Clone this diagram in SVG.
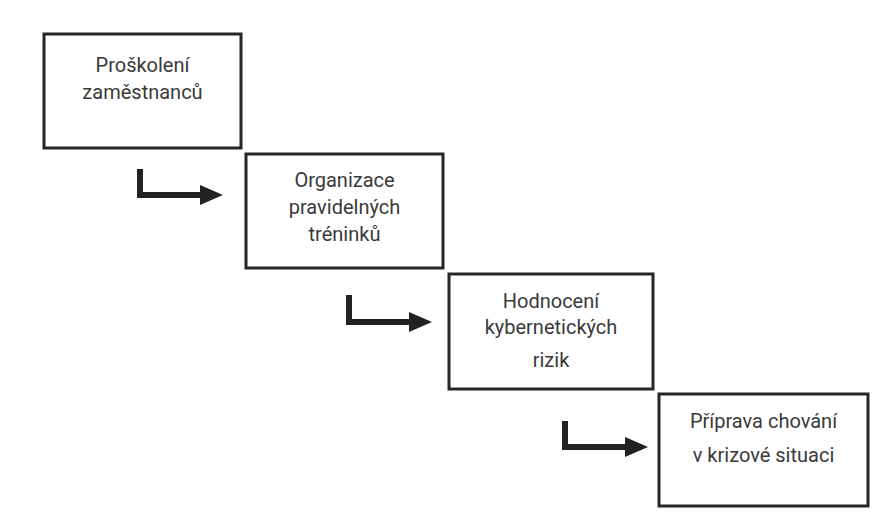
<svg xmlns="http://www.w3.org/2000/svg" width="881" height="525" viewBox="0 0 881 525">
  <defs>
    <style>
      .box { fill: #ffffff; stroke: #262626; stroke-width: 3; }
      .lbl { font-family: Roboto, "Noto Sans", "DejaVu Sans", sans-serif; font-size: 20px; fill: #3a3a3a; text-anchor: middle; }
      .conn { fill: none; stroke: #222222; stroke-width: 6; stroke-linejoin: miter; stroke-linecap: butt; }
    </style>
    <marker id="head" viewBox="0 0 23 20" markerWidth="23" markerHeight="20" markerUnits="userSpaceOnUse" refX="1" refY="10" orient="auto">
      <path d="M0,0 L23,10 L0,20 Z" fill="#222222"/>
    </marker>
  </defs>
  <rect width="881" height="525" fill="#ffffff"/>

  <g id="connectors">
    <path class="conn" d="M140,169 V195 H201" marker-end="url(#head)"/>
    <path class="conn" d="M349,295 V322 H410" marker-end="url(#head)"/>
    <path class="conn" d="M565,421 V447 H626" marker-end="url(#head)"/>
  </g>

  <g id="node1">
    <rect class="box" x="44" y="34" width="197" height="114"/>
    <text class="lbl" x="142.5" y="72">Proškolení</text>
    <text class="lbl" x="142.5" y="99">zaměstnanců</text>
  </g>

  <g id="node2">
    <rect class="box" x="246" y="154" width="197" height="114"/>
    <text class="lbl" x="344.5" y="187">Organizace</text>
    <text class="lbl" x="344.5" y="214">pravidelných</text>
    <text class="lbl" x="344.5" y="241">tréninků</text>
  </g>

  <g id="node3">
    <rect class="box" x="449" y="274" width="204" height="115"/>
    <text class="lbl" x="551" y="308">Hodnocení</text>
    <text class="lbl" x="551" y="334">kybernetických</text>
    <text class="lbl" x="551" y="367">rizik</text>
  </g>

  <g id="node4">
    <rect class="box" x="659" y="394" width="209" height="112"/>
    <text class="lbl" x="763.5" y="428">Příprava chování</text>
    <text class="lbl" x="763.5" y="462">v krizové situaci</text>
  </g>
</svg>
